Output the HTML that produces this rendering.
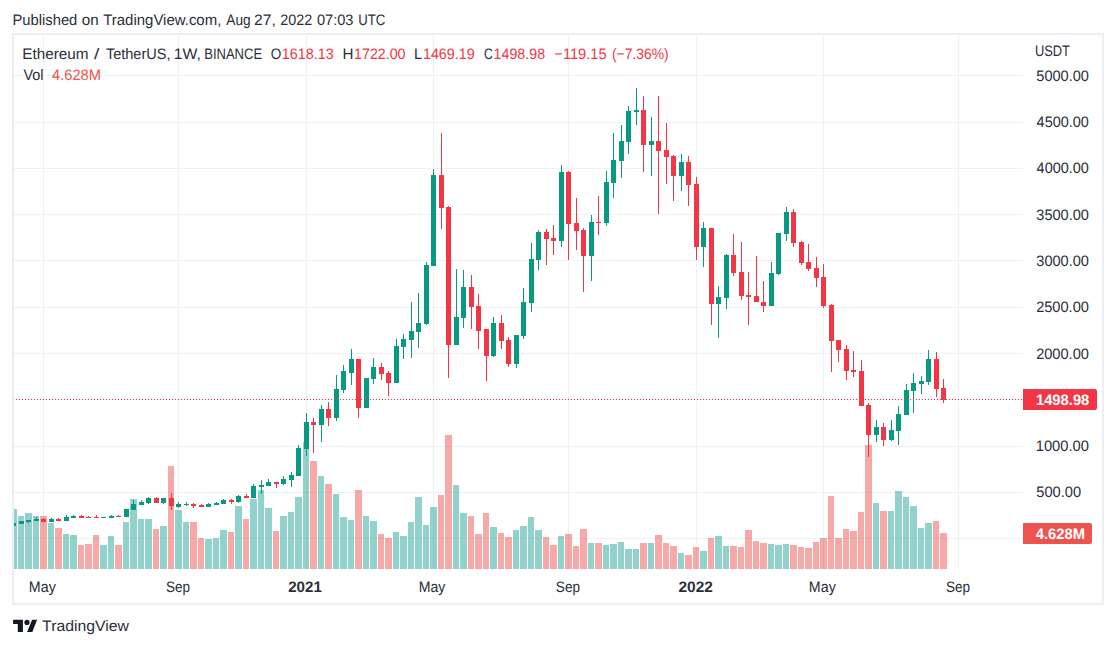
<!DOCTYPE html>
<html><head><meta charset="utf-8">
<style>
html,body{margin:0;padding:0;background:#fff;}
body{width:1116px;height:648px;overflow:hidden;position:relative;}
svg{position:absolute;left:0;top:0;}
text{font-family:"Liberation Sans",sans-serif;}
</style></head><body>
<svg width="1116" height="648" viewBox="0 0 1116 648" shape-rendering="crispEdges">
<defs><clipPath id="pane"><rect x="14" y="35" width="1009" height="534"/></clipPath></defs>
<rect x="0" y="0" width="1116" height="648" fill="#fff"/>
<g clip-path="url(#pane)">
<rect x="14" y="75" width="1009" height="1" fill="#eff2f1"/>
<rect x="14" y="122" width="1009" height="1" fill="#eff2f1"/>
<rect x="14" y="168" width="1009" height="1" fill="#eff2f1"/>
<rect x="14" y="214" width="1009" height="1" fill="#eff2f1"/>
<rect x="14" y="260" width="1009" height="1" fill="#eff2f1"/>
<rect x="14" y="307" width="1009" height="1" fill="#eff2f1"/>
<rect x="14" y="353" width="1009" height="1" fill="#eff2f1"/>
<rect x="14" y="399" width="1009" height="1" fill="#eff2f1"/>
<rect x="14" y="446" width="1009" height="1" fill="#eff2f1"/>
<rect x="14" y="492" width="1009" height="1" fill="#eff2f1"/>
<rect x="14" y="538" width="1009" height="1" fill="#eff2f1"/>
<rect x="43" y="35" width="1" height="534" fill="#eff2f1"/>
<rect x="178" y="35" width="1" height="534" fill="#eff2f1"/>
<rect x="306" y="35" width="1" height="534" fill="#eff2f1"/>
<rect x="433" y="35" width="1" height="534" fill="#eff2f1"/>
<rect x="568" y="35" width="1" height="534" fill="#eff2f1"/>
<rect x="696" y="35" width="1" height="534" fill="#eff2f1"/>
<rect x="823" y="35" width="1" height="534" fill="#eff2f1"/>
<rect x="958" y="35" width="1" height="534" fill="#eff2f1"/>
<rect x="10" y="509" width="7" height="60" fill="rgba(38,166,154,0.5)"/>
<rect x="18" y="516" width="6" height="53" fill="rgba(38,166,154,0.5)"/>
<rect x="25" y="513" width="7" height="56" fill="rgba(38,166,154,0.5)"/>
<rect x="33" y="516" width="6" height="53" fill="rgba(38,166,154,0.5)"/>
<rect x="40" y="516" width="7" height="53" fill="rgba(239,83,80,0.5)"/>
<rect x="48" y="523" width="6" height="46" fill="rgba(38,166,154,0.5)"/>
<rect x="55" y="528" width="7" height="41" fill="rgba(239,83,80,0.5)"/>
<rect x="63" y="534" width="6" height="35" fill="rgba(38,166,154,0.5)"/>
<rect x="70" y="535" width="7" height="34" fill="rgba(38,166,154,0.5)"/>
<rect x="78" y="545" width="6" height="24" fill="rgba(239,83,80,0.5)"/>
<rect x="85" y="544" width="7" height="25" fill="rgba(239,83,80,0.5)"/>
<rect x="93" y="535" width="6" height="34" fill="rgba(239,83,80,0.5)"/>
<rect x="100" y="545" width="7" height="24" fill="rgba(38,166,154,0.5)"/>
<rect x="108" y="536" width="6" height="33" fill="rgba(38,166,154,0.5)"/>
<rect x="115" y="545" width="7" height="24" fill="rgba(239,83,80,0.5)"/>
<rect x="123" y="522" width="6" height="47" fill="rgba(38,166,154,0.5)"/>
<rect x="130" y="499" width="7" height="70" fill="rgba(38,166,154,0.5)"/>
<rect x="138" y="519" width="6" height="50" fill="rgba(38,166,154,0.5)"/>
<rect x="145" y="519" width="7" height="50" fill="rgba(38,166,154,0.5)"/>
<rect x="153" y="529" width="6" height="40" fill="rgba(239,83,80,0.5)"/>
<rect x="160" y="526" width="7" height="43" fill="rgba(38,166,154,0.5)"/>
<rect x="168" y="466" width="6" height="103" fill="rgba(239,83,80,0.5)"/>
<rect x="175" y="510" width="7" height="59" fill="rgba(38,166,154,0.5)"/>
<rect x="183" y="522" width="6" height="47" fill="rgba(38,166,154,0.5)"/>
<rect x="190" y="522" width="7" height="47" fill="rgba(239,83,80,0.5)"/>
<rect x="198" y="538" width="6" height="31" fill="rgba(239,83,80,0.5)"/>
<rect x="205" y="539" width="7" height="30" fill="rgba(38,166,154,0.5)"/>
<rect x="213" y="538" width="6" height="31" fill="rgba(38,166,154,0.5)"/>
<rect x="220" y="530" width="7" height="39" fill="rgba(38,166,154,0.5)"/>
<rect x="228" y="532" width="6" height="37" fill="rgba(239,83,80,0.5)"/>
<rect x="235" y="506" width="7" height="63" fill="rgba(38,166,154,0.5)"/>
<rect x="243" y="519" width="6" height="50" fill="rgba(239,83,80,0.5)"/>
<rect x="250" y="499" width="7" height="70" fill="rgba(38,166,154,0.5)"/>
<rect x="258" y="490" width="6" height="79" fill="rgba(38,166,154,0.5)"/>
<rect x="265" y="508" width="7" height="61" fill="rgba(38,166,154,0.5)"/>
<rect x="273" y="531" width="6" height="38" fill="rgba(239,83,80,0.5)"/>
<rect x="280" y="516" width="7" height="53" fill="rgba(38,166,154,0.5)"/>
<rect x="288" y="512" width="6" height="57" fill="rgba(38,166,154,0.5)"/>
<rect x="295" y="497" width="7" height="72" fill="rgba(38,166,154,0.5)"/>
<rect x="303" y="442" width="6" height="127" fill="rgba(38,166,154,0.5)"/>
<rect x="310" y="461" width="7" height="108" fill="rgba(239,83,80,0.5)"/>
<rect x="318" y="476" width="6" height="93" fill="rgba(38,166,154,0.5)"/>
<rect x="325" y="484" width="7" height="85" fill="rgba(239,83,80,0.5)"/>
<rect x="333" y="494" width="6" height="75" fill="rgba(38,166,154,0.5)"/>
<rect x="340" y="517" width="7" height="52" fill="rgba(38,166,154,0.5)"/>
<rect x="348" y="520" width="6" height="49" fill="rgba(38,166,154,0.5)"/>
<rect x="355" y="490" width="7" height="79" fill="rgba(239,83,80,0.5)"/>
<rect x="363" y="516" width="6" height="53" fill="rgba(38,166,154,0.5)"/>
<rect x="370" y="521" width="7" height="48" fill="rgba(38,166,154,0.5)"/>
<rect x="378" y="534" width="6" height="35" fill="rgba(239,83,80,0.5)"/>
<rect x="385" y="538" width="7" height="31" fill="rgba(239,83,80,0.5)"/>
<rect x="393" y="532" width="6" height="37" fill="rgba(38,166,154,0.5)"/>
<rect x="400" y="536" width="7" height="33" fill="rgba(38,166,154,0.5)"/>
<rect x="408" y="522" width="6" height="47" fill="rgba(38,166,154,0.5)"/>
<rect x="415" y="497" width="7" height="72" fill="rgba(38,166,154,0.5)"/>
<rect x="423" y="525" width="6" height="44" fill="rgba(38,166,154,0.5)"/>
<rect x="430" y="507" width="7" height="62" fill="rgba(38,166,154,0.5)"/>
<rect x="438" y="495" width="6" height="74" fill="rgba(239,83,80,0.5)"/>
<rect x="445" y="435" width="7" height="134" fill="rgba(239,83,80,0.5)"/>
<rect x="453" y="485" width="6" height="84" fill="rgba(38,166,154,0.5)"/>
<rect x="460" y="513" width="7" height="56" fill="rgba(38,166,154,0.5)"/>
<rect x="468" y="516" width="6" height="53" fill="rgba(239,83,80,0.5)"/>
<rect x="475" y="534" width="7" height="35" fill="rgba(239,83,80,0.5)"/>
<rect x="483" y="513" width="6" height="56" fill="rgba(239,83,80,0.5)"/>
<rect x="490" y="527" width="7" height="42" fill="rgba(38,166,154,0.5)"/>
<rect x="498" y="533" width="6" height="36" fill="rgba(239,83,80,0.5)"/>
<rect x="505" y="537" width="7" height="32" fill="rgba(239,83,80,0.5)"/>
<rect x="513" y="530" width="6" height="39" fill="rgba(38,166,154,0.5)"/>
<rect x="520" y="526" width="7" height="43" fill="rgba(38,166,154,0.5)"/>
<rect x="528" y="517" width="6" height="52" fill="rgba(38,166,154,0.5)"/>
<rect x="535" y="530" width="7" height="39" fill="rgba(38,166,154,0.5)"/>
<rect x="543" y="537" width="6" height="32" fill="rgba(239,83,80,0.5)"/>
<rect x="550" y="545" width="7" height="24" fill="rgba(239,83,80,0.5)"/>
<rect x="558" y="536" width="6" height="33" fill="rgba(38,166,154,0.5)"/>
<rect x="565" y="534" width="7" height="35" fill="rgba(239,83,80,0.5)"/>
<rect x="573" y="546" width="6" height="23" fill="rgba(239,83,80,0.5)"/>
<rect x="580" y="529" width="7" height="40" fill="rgba(239,83,80,0.5)"/>
<rect x="588" y="543" width="6" height="26" fill="rgba(38,166,154,0.5)"/>
<rect x="595" y="543" width="7" height="26" fill="rgba(239,83,80,0.5)"/>
<rect x="603" y="545" width="6" height="24" fill="rgba(38,166,154,0.5)"/>
<rect x="610" y="544" width="7" height="25" fill="rgba(38,166,154,0.5)"/>
<rect x="618" y="542" width="6" height="27" fill="rgba(38,166,154,0.5)"/>
<rect x="625" y="549" width="7" height="20" fill="rgba(38,166,154,0.5)"/>
<rect x="633" y="549" width="6" height="20" fill="rgba(38,166,154,0.5)"/>
<rect x="640" y="543" width="7" height="26" fill="rgba(239,83,80,0.5)"/>
<rect x="648" y="543" width="6" height="26" fill="rgba(38,166,154,0.5)"/>
<rect x="655" y="535" width="7" height="34" fill="rgba(239,83,80,0.5)"/>
<rect x="663" y="543" width="6" height="26" fill="rgba(239,83,80,0.5)"/>
<rect x="670" y="546" width="7" height="23" fill="rgba(239,83,80,0.5)"/>
<rect x="678" y="553" width="6" height="16" fill="rgba(38,166,154,0.5)"/>
<rect x="685" y="555" width="7" height="14" fill="rgba(239,83,80,0.5)"/>
<rect x="693" y="547" width="6" height="22" fill="rgba(239,83,80,0.5)"/>
<rect x="700" y="551" width="7" height="18" fill="rgba(38,166,154,0.5)"/>
<rect x="708" y="538" width="6" height="31" fill="rgba(239,83,80,0.5)"/>
<rect x="715" y="536" width="7" height="33" fill="rgba(38,166,154,0.5)"/>
<rect x="723" y="546" width="6" height="23" fill="rgba(38,166,154,0.5)"/>
<rect x="730" y="546" width="7" height="23" fill="rgba(239,83,80,0.5)"/>
<rect x="738" y="547" width="6" height="22" fill="rgba(239,83,80,0.5)"/>
<rect x="745" y="530" width="7" height="39" fill="rgba(239,83,80,0.5)"/>
<rect x="753" y="541" width="6" height="28" fill="rgba(239,83,80,0.5)"/>
<rect x="760" y="543" width="7" height="26" fill="rgba(239,83,80,0.5)"/>
<rect x="768" y="544" width="6" height="25" fill="rgba(38,166,154,0.5)"/>
<rect x="775" y="545" width="7" height="24" fill="rgba(38,166,154,0.5)"/>
<rect x="783" y="544" width="6" height="25" fill="rgba(38,166,154,0.5)"/>
<rect x="790" y="545" width="7" height="24" fill="rgba(239,83,80,0.5)"/>
<rect x="798" y="547" width="6" height="22" fill="rgba(239,83,80,0.5)"/>
<rect x="805" y="548" width="7" height="21" fill="rgba(239,83,80,0.5)"/>
<rect x="813" y="542" width="6" height="27" fill="rgba(239,83,80,0.5)"/>
<rect x="820" y="538" width="7" height="31" fill="rgba(239,83,80,0.5)"/>
<rect x="828" y="496" width="6" height="73" fill="rgba(239,83,80,0.5)"/>
<rect x="835" y="538" width="7" height="31" fill="rgba(239,83,80,0.5)"/>
<rect x="843" y="529" width="6" height="40" fill="rgba(239,83,80,0.5)"/>
<rect x="850" y="531" width="7" height="38" fill="rgba(239,83,80,0.5)"/>
<rect x="858" y="512" width="6" height="57" fill="rgba(239,83,80,0.5)"/>
<rect x="865" y="445" width="7" height="124" fill="rgba(239,83,80,0.5)"/>
<rect x="873" y="503" width="6" height="66" fill="rgba(38,166,154,0.5)"/>
<rect x="880" y="511" width="7" height="58" fill="rgba(239,83,80,0.5)"/>
<rect x="888" y="511" width="6" height="58" fill="rgba(38,166,154,0.5)"/>
<rect x="895" y="491" width="7" height="78" fill="rgba(38,166,154,0.5)"/>
<rect x="903" y="497" width="6" height="72" fill="rgba(38,166,154,0.5)"/>
<rect x="910" y="506" width="7" height="63" fill="rgba(38,166,154,0.5)"/>
<rect x="918" y="528" width="6" height="41" fill="rgba(38,166,154,0.5)"/>
<rect x="925" y="523" width="7" height="46" fill="rgba(38,166,154,0.5)"/>
<rect x="933" y="521" width="6" height="48" fill="rgba(239,83,80,0.5)"/>
<rect x="940" y="533" width="7" height="36" fill="rgba(239,83,80,0.5)"/>
<rect x="13" y="523" width="1" height="3" fill="#089981"/>
<rect x="11" y="523" width="5" height="3" fill="#089981"/>
<rect x="21" y="521" width="1" height="3" fill="#089981"/>
<rect x="19" y="521" width="5" height="3" fill="#089981"/>
<rect x="28" y="520" width="1" height="3" fill="#089981"/>
<rect x="26" y="520" width="5" height="2" fill="#089981"/>
<rect x="36" y="517" width="1" height="4" fill="#089981"/>
<rect x="34" y="519" width="5" height="2" fill="#089981"/>
<rect x="43" y="518" width="1" height="4" fill="#f23645"/>
<rect x="41" y="519" width="5" height="3" fill="#f23645"/>
<rect x="51" y="518" width="1" height="4" fill="#089981"/>
<rect x="49" y="519" width="5" height="3" fill="#089981"/>
<rect x="58" y="518" width="1" height="3" fill="#f23645"/>
<rect x="56" y="519" width="5" height="2" fill="#f23645"/>
<rect x="66" y="515" width="1" height="6" fill="#089981"/>
<rect x="64" y="517" width="5" height="4" fill="#089981"/>
<rect x="73" y="515" width="1" height="3" fill="#089981"/>
<rect x="71" y="516" width="5" height="2" fill="#089981"/>
<rect x="81" y="515" width="1" height="3" fill="#f23645"/>
<rect x="79" y="516" width="5" height="2" fill="#f23645"/>
<rect x="88" y="516" width="1" height="2" fill="#f23645"/>
<rect x="86" y="517" width="5" height="1" fill="#f23645"/>
<rect x="96" y="515" width="1" height="3" fill="#f23645"/>
<rect x="94" y="517" width="5" height="1" fill="#f23645"/>
<rect x="103" y="517" width="1" height="1" fill="#089981"/>
<rect x="101" y="517" width="5" height="1" fill="#089981"/>
<rect x="111" y="515" width="1" height="3" fill="#089981"/>
<rect x="109" y="516" width="5" height="2" fill="#089981"/>
<rect x="118" y="515" width="1" height="2" fill="#f23645"/>
<rect x="116" y="516" width="5" height="1" fill="#f23645"/>
<rect x="126" y="509" width="1" height="8" fill="#089981"/>
<rect x="124" y="509" width="5" height="8" fill="#089981"/>
<rect x="133" y="500" width="1" height="10" fill="#089981"/>
<rect x="131" y="504" width="5" height="6" fill="#089981"/>
<rect x="141" y="500" width="1" height="5" fill="#089981"/>
<rect x="139" y="502" width="5" height="3" fill="#089981"/>
<rect x="148" y="497" width="1" height="7" fill="#089981"/>
<rect x="146" y="498" width="5" height="5" fill="#089981"/>
<rect x="156" y="497" width="1" height="6" fill="#f23645"/>
<rect x="154" y="498" width="5" height="5" fill="#f23645"/>
<rect x="163" y="498" width="1" height="6" fill="#089981"/>
<rect x="161" y="498" width="5" height="5" fill="#089981"/>
<rect x="171" y="493" width="1" height="17" fill="#f23645"/>
<rect x="169" y="498" width="5" height="8" fill="#f23645"/>
<rect x="178" y="502" width="1" height="6" fill="#089981"/>
<rect x="176" y="504" width="5" height="3" fill="#089981"/>
<rect x="186" y="502" width="1" height="4" fill="#089981"/>
<rect x="184" y="504" width="5" height="1" fill="#089981"/>
<rect x="193" y="503" width="1" height="5" fill="#f23645"/>
<rect x="191" y="504" width="5" height="2" fill="#f23645"/>
<rect x="201" y="504" width="1" height="3" fill="#f23645"/>
<rect x="199" y="505" width="5" height="2" fill="#f23645"/>
<rect x="208" y="503" width="1" height="4" fill="#089981"/>
<rect x="206" y="504" width="5" height="3" fill="#089981"/>
<rect x="216" y="502" width="1" height="3" fill="#089981"/>
<rect x="214" y="503" width="5" height="2" fill="#089981"/>
<rect x="223" y="499" width="1" height="5" fill="#089981"/>
<rect x="221" y="500" width="5" height="4" fill="#089981"/>
<rect x="231" y="499" width="1" height="5" fill="#f23645"/>
<rect x="229" y="500" width="5" height="2" fill="#f23645"/>
<rect x="238" y="495" width="1" height="8" fill="#089981"/>
<rect x="236" y="496" width="5" height="6" fill="#089981"/>
<rect x="246" y="494" width="1" height="4" fill="#f23645"/>
<rect x="244" y="496" width="5" height="2" fill="#f23645"/>
<rect x="253" y="484" width="1" height="14" fill="#089981"/>
<rect x="251" y="486" width="5" height="12" fill="#089981"/>
<rect x="261" y="480" width="1" height="14" fill="#089981"/>
<rect x="259" y="485" width="5" height="2" fill="#089981"/>
<rect x="268" y="479" width="1" height="7" fill="#089981"/>
<rect x="266" y="482" width="5" height="4" fill="#089981"/>
<rect x="276" y="482" width="1" height="6" fill="#f23645"/>
<rect x="274" y="482" width="5" height="2" fill="#f23645"/>
<rect x="283" y="476" width="1" height="9" fill="#089981"/>
<rect x="281" y="479" width="5" height="5" fill="#089981"/>
<rect x="291" y="472" width="1" height="15" fill="#089981"/>
<rect x="289" y="475" width="5" height="5" fill="#089981"/>
<rect x="298" y="445" width="1" height="31" fill="#089981"/>
<rect x="296" y="448" width="5" height="28" fill="#089981"/>
<rect x="306" y="413" width="1" height="43" fill="#089981"/>
<rect x="304" y="422" width="5" height="27" fill="#089981"/>
<rect x="313" y="418" width="1" height="35" fill="#f23645"/>
<rect x="311" y="422" width="5" height="3" fill="#f23645"/>
<rect x="321" y="405" width="1" height="37" fill="#089981"/>
<rect x="319" y="409" width="5" height="16" fill="#089981"/>
<rect x="328" y="402" width="1" height="24" fill="#f23645"/>
<rect x="326" y="409" width="5" height="9" fill="#f23645"/>
<rect x="336" y="375" width="1" height="46" fill="#089981"/>
<rect x="334" y="389" width="5" height="29" fill="#089981"/>
<rect x="343" y="365" width="1" height="28" fill="#089981"/>
<rect x="341" y="371" width="5" height="19" fill="#089981"/>
<rect x="351" y="349" width="1" height="36" fill="#089981"/>
<rect x="349" y="359" width="5" height="14" fill="#089981"/>
<rect x="358" y="359" width="1" height="59" fill="#f23645"/>
<rect x="356" y="359" width="5" height="49" fill="#f23645"/>
<rect x="366" y="378" width="1" height="30" fill="#089981"/>
<rect x="364" y="378" width="5" height="30" fill="#089981"/>
<rect x="373" y="358" width="1" height="26" fill="#089981"/>
<rect x="371" y="367" width="5" height="12" fill="#089981"/>
<rect x="381" y="363" width="1" height="17" fill="#f23645"/>
<rect x="379" y="367" width="5" height="7" fill="#f23645"/>
<rect x="388" y="371" width="1" height="25" fill="#f23645"/>
<rect x="386" y="373" width="5" height="10" fill="#f23645"/>
<rect x="396" y="339" width="1" height="44" fill="#089981"/>
<rect x="394" y="346" width="5" height="37" fill="#089981"/>
<rect x="403" y="334" width="1" height="25" fill="#089981"/>
<rect x="401" y="339" width="5" height="8" fill="#089981"/>
<rect x="411" y="302" width="1" height="56" fill="#089981"/>
<rect x="409" y="331" width="5" height="9" fill="#089981"/>
<rect x="418" y="293" width="1" height="55" fill="#089981"/>
<rect x="416" y="323" width="5" height="9" fill="#089981"/>
<rect x="426" y="262" width="1" height="63" fill="#089981"/>
<rect x="424" y="265" width="5" height="59" fill="#089981"/>
<rect x="433" y="169" width="1" height="97" fill="#089981"/>
<rect x="431" y="175" width="5" height="91" fill="#089981"/>
<rect x="441" y="133" width="1" height="96" fill="#f23645"/>
<rect x="439" y="175" width="5" height="33" fill="#f23645"/>
<rect x="448" y="206" width="1" height="172" fill="#f23645"/>
<rect x="446" y="207" width="5" height="138" fill="#f23645"/>
<rect x="456" y="269" width="1" height="76" fill="#089981"/>
<rect x="454" y="317" width="5" height="28" fill="#089981"/>
<rect x="463" y="270" width="1" height="58" fill="#089981"/>
<rect x="461" y="287" width="5" height="31" fill="#089981"/>
<rect x="471" y="275" width="1" height="54" fill="#f23645"/>
<rect x="469" y="287" width="5" height="20" fill="#f23645"/>
<rect x="478" y="294" width="1" height="55" fill="#f23645"/>
<rect x="476" y="306" width="5" height="25" fill="#f23645"/>
<rect x="486" y="329" width="1" height="52" fill="#f23645"/>
<rect x="484" y="329" width="5" height="27" fill="#f23645"/>
<rect x="493" y="317" width="1" height="40" fill="#089981"/>
<rect x="491" y="323" width="5" height="33" fill="#089981"/>
<rect x="501" y="315" width="1" height="34" fill="#f23645"/>
<rect x="499" y="323" width="5" height="18" fill="#f23645"/>
<rect x="508" y="337" width="1" height="30" fill="#f23645"/>
<rect x="506" y="340" width="5" height="24" fill="#f23645"/>
<rect x="516" y="335" width="1" height="33" fill="#089981"/>
<rect x="514" y="335" width="5" height="29" fill="#089981"/>
<rect x="523" y="288" width="1" height="51" fill="#089981"/>
<rect x="521" y="302" width="5" height="34" fill="#089981"/>
<rect x="531" y="243" width="1" height="69" fill="#089981"/>
<rect x="529" y="259" width="5" height="44" fill="#089981"/>
<rect x="538" y="230" width="1" height="40" fill="#089981"/>
<rect x="536" y="232" width="5" height="28" fill="#089981"/>
<rect x="546" y="229" width="1" height="36" fill="#f23645"/>
<rect x="544" y="232" width="5" height="7" fill="#f23645"/>
<rect x="553" y="225" width="1" height="30" fill="#f23645"/>
<rect x="551" y="238" width="5" height="3" fill="#f23645"/>
<rect x="561" y="165" width="1" height="82" fill="#089981"/>
<rect x="559" y="172" width="5" height="69" fill="#089981"/>
<rect x="568" y="171" width="1" height="89" fill="#f23645"/>
<rect x="566" y="172" width="5" height="52" fill="#f23645"/>
<rect x="576" y="198" width="1" height="52" fill="#f23645"/>
<rect x="574" y="223" width="5" height="8" fill="#f23645"/>
<rect x="583" y="228" width="1" height="64" fill="#f23645"/>
<rect x="581" y="230" width="5" height="26" fill="#f23645"/>
<rect x="591" y="215" width="1" height="66" fill="#089981"/>
<rect x="589" y="222" width="5" height="34" fill="#089981"/>
<rect x="598" y="196" width="1" height="39" fill="#f23645"/>
<rect x="596" y="222" width="5" height="1" fill="#f23645"/>
<rect x="606" y="171" width="1" height="55" fill="#089981"/>
<rect x="604" y="182" width="5" height="41" fill="#089981"/>
<rect x="613" y="133" width="1" height="65" fill="#089981"/>
<rect x="611" y="160" width="5" height="23" fill="#089981"/>
<rect x="621" y="125" width="1" height="53" fill="#089981"/>
<rect x="619" y="141" width="5" height="20" fill="#089981"/>
<rect x="628" y="106" width="1" height="48" fill="#089981"/>
<rect x="626" y="111" width="5" height="31" fill="#089981"/>
<rect x="636" y="88" width="1" height="37" fill="#089981"/>
<rect x="634" y="110" width="5" height="2" fill="#089981"/>
<rect x="643" y="96" width="1" height="76" fill="#f23645"/>
<rect x="641" y="110" width="5" height="35" fill="#f23645"/>
<rect x="651" y="117" width="1" height="59" fill="#089981"/>
<rect x="649" y="141" width="5" height="4" fill="#089981"/>
<rect x="658" y="96" width="1" height="118" fill="#f23645"/>
<rect x="656" y="141" width="5" height="10" fill="#f23645"/>
<rect x="666" y="123" width="1" height="61" fill="#f23645"/>
<rect x="664" y="150" width="5" height="7" fill="#f23645"/>
<rect x="673" y="155" width="1" height="46" fill="#f23645"/>
<rect x="671" y="156" width="5" height="20" fill="#f23645"/>
<rect x="681" y="154" width="1" height="37" fill="#089981"/>
<rect x="679" y="162" width="5" height="14" fill="#089981"/>
<rect x="688" y="156" width="1" height="50" fill="#f23645"/>
<rect x="686" y="162" width="5" height="23" fill="#f23645"/>
<rect x="696" y="177" width="1" height="83" fill="#f23645"/>
<rect x="694" y="184" width="5" height="63" fill="#f23645"/>
<rect x="703" y="222" width="1" height="45" fill="#089981"/>
<rect x="701" y="228" width="5" height="19" fill="#089981"/>
<rect x="711" y="228" width="1" height="97" fill="#f23645"/>
<rect x="709" y="228" width="5" height="76" fill="#f23645"/>
<rect x="718" y="286" width="1" height="52" fill="#089981"/>
<rect x="716" y="297" width="5" height="7" fill="#089981"/>
<rect x="726" y="254" width="1" height="55" fill="#089981"/>
<rect x="724" y="255" width="5" height="43" fill="#089981"/>
<rect x="733" y="234" width="1" height="42" fill="#f23645"/>
<rect x="731" y="255" width="5" height="18" fill="#f23645"/>
<rect x="741" y="242" width="1" height="58" fill="#f23645"/>
<rect x="739" y="272" width="5" height="24" fill="#f23645"/>
<rect x="748" y="272" width="1" height="53" fill="#f23645"/>
<rect x="746" y="295" width="5" height="2" fill="#f23645"/>
<rect x="756" y="256" width="1" height="46" fill="#f23645"/>
<rect x="754" y="296" width="5" height="6" fill="#f23645"/>
<rect x="763" y="281" width="1" height="31" fill="#f23645"/>
<rect x="761" y="302" width="5" height="4" fill="#f23645"/>
<rect x="771" y="262" width="1" height="44" fill="#089981"/>
<rect x="769" y="273" width="5" height="33" fill="#089981"/>
<rect x="778" y="233" width="1" height="42" fill="#089981"/>
<rect x="776" y="233" width="5" height="41" fill="#089981"/>
<rect x="786" y="207" width="1" height="34" fill="#089981"/>
<rect x="784" y="212" width="5" height="22" fill="#089981"/>
<rect x="793" y="209" width="1" height="38" fill="#f23645"/>
<rect x="791" y="212" width="5" height="31" fill="#f23645"/>
<rect x="801" y="241" width="1" height="24" fill="#f23645"/>
<rect x="799" y="242" width="5" height="21" fill="#f23645"/>
<rect x="808" y="244" width="1" height="27" fill="#f23645"/>
<rect x="806" y="262" width="5" height="7" fill="#f23645"/>
<rect x="816" y="257" width="1" height="30" fill="#f23645"/>
<rect x="814" y="268" width="5" height="10" fill="#f23645"/>
<rect x="823" y="264" width="1" height="44" fill="#f23645"/>
<rect x="821" y="277" width="5" height="29" fill="#f23645"/>
<rect x="831" y="304" width="1" height="68" fill="#f23645"/>
<rect x="829" y="305" width="5" height="36" fill="#f23645"/>
<rect x="838" y="340" width="1" height="22" fill="#f23645"/>
<rect x="836" y="340" width="5" height="10" fill="#f23645"/>
<rect x="846" y="345" width="1" height="35" fill="#f23645"/>
<rect x="844" y="349" width="5" height="22" fill="#f23645"/>
<rect x="853" y="351" width="1" height="26" fill="#f23645"/>
<rect x="851" y="370" width="5" height="2" fill="#f23645"/>
<rect x="861" y="360" width="1" height="46" fill="#f23645"/>
<rect x="859" y="371" width="5" height="35" fill="#f23645"/>
<rect x="868" y="403" width="1" height="54" fill="#f23645"/>
<rect x="866" y="405" width="5" height="30" fill="#f23645"/>
<rect x="876" y="420" width="1" height="22" fill="#089981"/>
<rect x="874" y="427" width="5" height="8" fill="#089981"/>
<rect x="883" y="423" width="1" height="23" fill="#f23645"/>
<rect x="881" y="427" width="5" height="13" fill="#f23645"/>
<rect x="891" y="420" width="1" height="21" fill="#089981"/>
<rect x="889" y="430" width="5" height="10" fill="#089981"/>
<rect x="898" y="406" width="1" height="39" fill="#089981"/>
<rect x="896" y="414" width="5" height="17" fill="#089981"/>
<rect x="906" y="384" width="1" height="31" fill="#089981"/>
<rect x="904" y="390" width="5" height="25" fill="#089981"/>
<rect x="913" y="373" width="1" height="40" fill="#089981"/>
<rect x="911" y="383" width="5" height="8" fill="#089981"/>
<rect x="921" y="376" width="1" height="18" fill="#089981"/>
<rect x="919" y="381" width="5" height="3" fill="#089981"/>
<rect x="928" y="350" width="1" height="35" fill="#089981"/>
<rect x="926" y="359" width="5" height="23" fill="#089981"/>
<rect x="936" y="352" width="1" height="45" fill="#f23645"/>
<rect x="934" y="359" width="5" height="30" fill="#f23645"/>
<rect x="943" y="379" width="1" height="24" fill="#f23645"/>
<rect x="941" y="388" width="5" height="12" fill="#f23645"/>
<line x1="13" y1="399.5" x2="1023" y2="399.5" stroke="#f23645" stroke-width="1" stroke-dasharray="1 2"/>
</g>
<!-- frame -->
<rect x="12" y="33" width="1092" height="2" fill="#eceef2"/>
<rect x="12" y="603" width="1092" height="2" fill="#eceef2"/>
<rect x="12" y="33" width="2" height="572" fill="#eceef2"/>
<rect x="1102" y="33" width="2" height="572" fill="#eceef2"/>
<g shape-rendering="auto" text-rendering="geometricPrecision">
<rect x="1023" y="389" width="74" height="21" rx="2" fill="#f23645"/>
<rect x="1023" y="389" width="4" height="21" fill="#f23645"/>
<rect x="1023" y="523" width="69" height="21" rx="2" fill="#ef5350"/>
<rect x="1023" y="523" width="4" height="21" fill="#ef5350"/>
<text x="12.54" y="24.9" font-size="15.2" fill="#2a2e39" font-weight="normal" text-anchor="start" textLength="64.8" lengthAdjust="spacingAndGlyphs">Published</text>
<text x="81.8" y="24.9" font-size="15.2" fill="#2a2e39" font-weight="normal" text-anchor="start" textLength="16.91" lengthAdjust="spacingAndGlyphs">on</text>
<text x="103.2" y="24.9" font-size="15.2" fill="#2a2e39" font-weight="normal" text-anchor="start" textLength="118.14" lengthAdjust="spacingAndGlyphs">TradingView.com,</text>
<text x="226.31" y="24.9" font-size="15.2" fill="#2a2e39" font-weight="normal" text-anchor="start" textLength="24.34" lengthAdjust="spacingAndGlyphs">Aug</text>
<text x="254.07" y="24.9" font-size="15.2" fill="#2a2e39" font-weight="normal" text-anchor="start" textLength="21.8" lengthAdjust="spacingAndGlyphs">27,</text>
<text x="280.14" y="24.9" font-size="15.2" fill="#2a2e39" font-weight="normal" text-anchor="start" textLength="32.13" lengthAdjust="spacingAndGlyphs">2022</text>
<text x="316.92" y="24.9" font-size="15.2" fill="#2a2e39" font-weight="normal" text-anchor="start" textLength="36.59" lengthAdjust="spacingAndGlyphs">07:03</text>
<text x="358.16" y="24.9" font-size="15.2" fill="#2a2e39" font-weight="normal" text-anchor="start" textLength="27.1" lengthAdjust="spacingAndGlyphs">UTC</text>
<text x="22.29" y="58.9" font-size="15.2" fill="#2a2e39" font-weight="normal" text-anchor="start" textLength="66.31" lengthAdjust="spacingAndGlyphs">Ethereum</text>
<text x="94.0" y="58.9" font-size="15.2" fill="#2a2e39" font-weight="normal" text-anchor="start" textLength="5.33" lengthAdjust="spacingAndGlyphs">/</text>
<text x="105.91" y="58.9" font-size="15.2" fill="#2a2e39" font-weight="normal" text-anchor="start" textLength="64.61" lengthAdjust="spacingAndGlyphs">TetherUS,</text>
<text x="173.75" y="58.9" font-size="15.2" fill="#2a2e39" font-weight="normal" text-anchor="start" textLength="27.18" lengthAdjust="spacingAndGlyphs">1W,</text>
<text x="204.27" y="58.9" font-size="15.2" fill="#2a2e39" font-weight="normal" text-anchor="start" textLength="57.8" lengthAdjust="spacingAndGlyphs">BINANCE</text>
<text x="270.77" y="58.9" font-size="15.2" fill="#2a2e39" font-weight="normal" text-anchor="start" textLength="10.57" lengthAdjust="spacingAndGlyphs">O</text>
<text x="281.77" y="58.9" font-size="15.2" fill="#f23645" font-weight="normal" text-anchor="start" textLength="51.94" lengthAdjust="spacingAndGlyphs">1618.13</text>
<text x="342.5" y="58.9" font-size="15.2" fill="#2a2e39" font-weight="normal" text-anchor="start" textLength="10.98" lengthAdjust="spacingAndGlyphs">H</text>
<text x="354.08" y="58.9" font-size="15.2" fill="#f23645" font-weight="normal" text-anchor="start" textLength="51.43" lengthAdjust="spacingAndGlyphs">1722.00</text>
<text x="414.05" y="58.9" font-size="15.2" fill="#2a2e39" font-weight="normal" text-anchor="start" textLength="8.08" lengthAdjust="spacingAndGlyphs">L</text>
<text x="422.97" y="58.9" font-size="15.2" fill="#f23645" font-weight="normal" text-anchor="start" textLength="51.63" lengthAdjust="spacingAndGlyphs">1469.19</text>
<text x="483.97" y="58.9" font-size="15.2" fill="#2a2e39" font-weight="normal" text-anchor="start" textLength="8.69" lengthAdjust="spacingAndGlyphs">C</text>
<text x="493.57" y="58.9" font-size="15.2" fill="#f23645" font-weight="normal" text-anchor="start" textLength="51.53" lengthAdjust="spacingAndGlyphs">1498.98</text>
<text x="554.33" y="58.9" font-size="15.2" fill="#f23645" font-weight="normal" text-anchor="start" textLength="52.29" lengthAdjust="spacingAndGlyphs">−119.15</text>
<text x="611.98" y="58.9" font-size="15.2" fill="#f23645" font-weight="normal" text-anchor="start" textLength="56.63" lengthAdjust="spacingAndGlyphs">(−7.36%)</text>
<text x="23.4" y="79.7" font-size="15.2" fill="#2a2e39" font-weight="normal" text-anchor="start" textLength="20.18" lengthAdjust="spacingAndGlyphs">Vol</text>
<text x="52.01" y="79.7" font-size="15.2" fill="#ef5350" font-weight="normal" text-anchor="start" textLength="49.05" lengthAdjust="spacingAndGlyphs">4.628M</text>
<text x="1034.88" y="55.8" font-size="15.2" fill="#2a2e39" font-weight="normal" text-anchor="start" textLength="35.04" lengthAdjust="spacingAndGlyphs">USDT</text>
<text x="28.87" y="592.2" font-size="15.2" fill="#2a2e39" font-weight="normal" text-anchor="start" textLength="26.94" lengthAdjust="spacingAndGlyphs">May</text>
<text x="165.88" y="592.2" font-size="15.2" fill="#2a2e39" font-weight="normal" text-anchor="start" textLength="24.1" lengthAdjust="spacingAndGlyphs">Sep</text>
<text x="288.2" y="592.2" font-size="15.2" fill="#2a2e39" font-weight="bold" text-anchor="start" textLength="33.61" lengthAdjust="spacingAndGlyphs">2021</text>
<text x="418.69" y="592.2" font-size="15.2" fill="#2a2e39" font-weight="normal" text-anchor="start" textLength="26.63" lengthAdjust="spacingAndGlyphs">May</text>
<text x="555.87" y="592.2" font-size="15.2" fill="#2a2e39" font-weight="normal" text-anchor="start" textLength="24.2" lengthAdjust="spacingAndGlyphs">Sep</text>
<text x="678.49" y="592.2" font-size="15.2" fill="#2a2e39" font-weight="bold" text-anchor="start" textLength="34.43" lengthAdjust="spacingAndGlyphs">2022</text>
<text x="808.87" y="592.2" font-size="15.2" fill="#2a2e39" font-weight="normal" text-anchor="start" textLength="26.94" lengthAdjust="spacingAndGlyphs">May</text>
<text x="945.88" y="592.2" font-size="15.2" fill="#2a2e39" font-weight="normal" text-anchor="start" textLength="24.1" lengthAdjust="spacingAndGlyphs">Sep</text>
<text x="42.09" y="631.3" font-size="15.2" fill="#2a2e39" font-weight="normal" text-anchor="start" textLength="86.96" lengthAdjust="spacingAndGlyphs">TradingView</text>
<text x="1035.93" y="405.1" font-size="15.2" fill="#ffffff" font-weight="bold" text-anchor="start" textLength="53.4" lengthAdjust="spacingAndGlyphs">1498.98</text>
<text x="1035.81" y="538.7" font-size="15.2" fill="#ffffff" font-weight="bold" text-anchor="start" textLength="49.16" lengthAdjust="spacingAndGlyphs">4.628M</text>
<text x="1036.33" y="80.7" font-size="15.2" fill="#2a2e39" font-weight="normal" text-anchor="start" textLength="52.6" lengthAdjust="spacingAndGlyphs">5000.00</text>
<text x="1036.61" y="126.9" font-size="15.2" fill="#2a2e39" font-weight="normal" text-anchor="start" textLength="52.3" lengthAdjust="spacingAndGlyphs">4500.00</text>
<text x="1036.61" y="172.9" font-size="15.2" fill="#2a2e39" font-weight="normal" text-anchor="start" textLength="52.3" lengthAdjust="spacingAndGlyphs">4000.00</text>
<text x="1036.33" y="219.8" font-size="15.2" fill="#2a2e39" font-weight="normal" text-anchor="start" textLength="52.6" lengthAdjust="spacingAndGlyphs">3500.00</text>
<text x="1036.33" y="265.8" font-size="15.2" fill="#2a2e39" font-weight="normal" text-anchor="start" textLength="52.6" lengthAdjust="spacingAndGlyphs">3000.00</text>
<text x="1036.13" y="311.9" font-size="15.2" fill="#2a2e39" font-weight="normal" text-anchor="start" textLength="52.79" lengthAdjust="spacingAndGlyphs">2500.00</text>
<text x="1036.13" y="358.8" font-size="15.2" fill="#2a2e39" font-weight="normal" text-anchor="start" textLength="52.79" lengthAdjust="spacingAndGlyphs">2000.00</text>
<text x="1035.74" y="450.9" font-size="15.2" fill="#2a2e39" font-weight="normal" text-anchor="start" textLength="53.19" lengthAdjust="spacingAndGlyphs">1000.00</text>
<text x="1036.32" y="496.9" font-size="15.2" fill="#2a2e39" font-weight="normal" text-anchor="start" textLength="44.75" lengthAdjust="spacingAndGlyphs">500.00</text>
<g fill="#131722"><path d="M13.1 619.8h9.8v12.1h-5.1v-7.9h-4.7z"/><circle cx="27" cy="622.4" r="2.6"/><path d="M32.1 619.8h5l-4.8 12.1h-5.2z"/></g>
</g>
</svg>
</body></html>
